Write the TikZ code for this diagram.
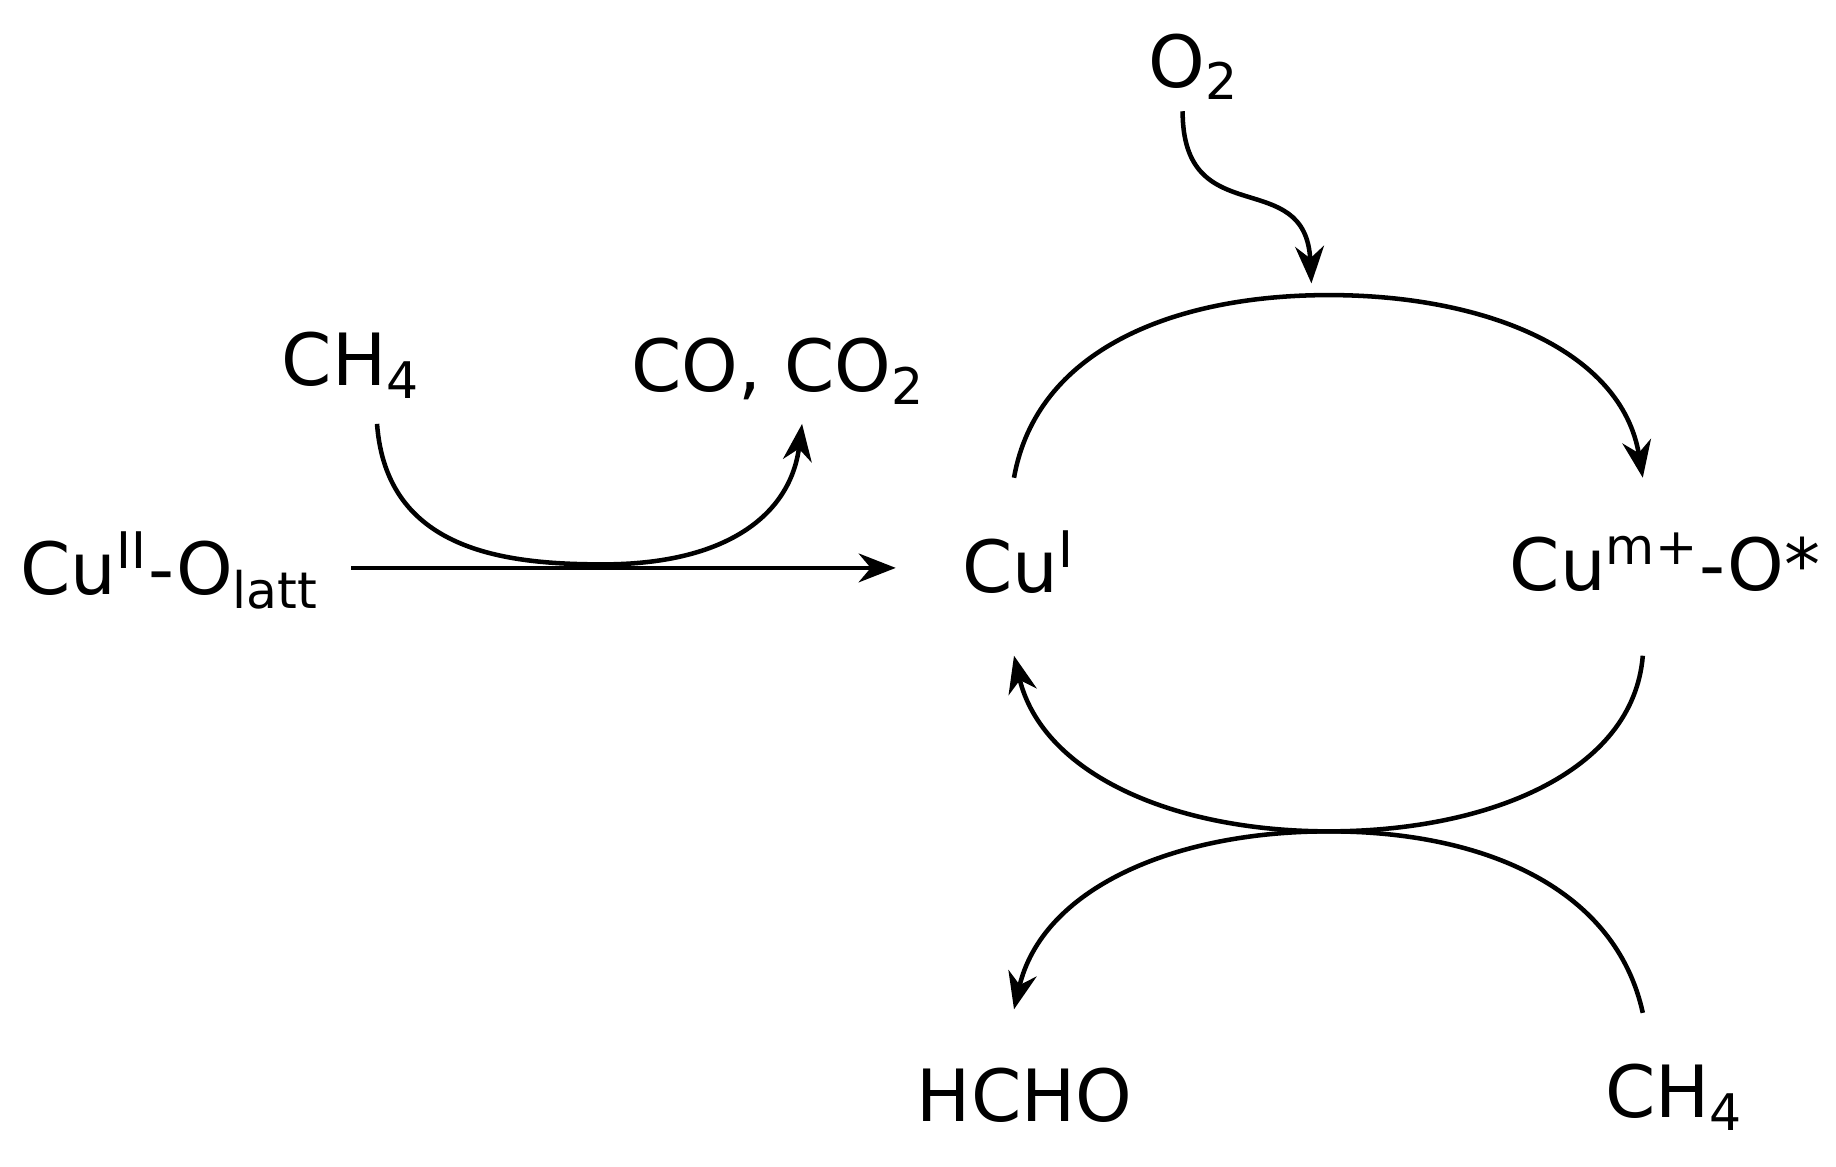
\documentclass[tikz,border=0pt]{standalone}
\usepackage{fontspec}
\setmainfont{DejaVu Sans}
\usetikzlibrary{arrows.meta}
\begin{document}
\begin{tikzpicture}[x=0.01cm,y=-0.01cm,
  lbl/.style={font=\fontsize{17.5}{20}\selectfont, inner sep=0pt},
  arr/.style={line width=1.1pt,-{Stealth[length=9pt,width=7pt]}}]
\useasboundingbox (0,0) rectangle (1568,996);
\node[lbl] (cuII) at (145,487) {Cu\textsuperscript{II}-O\textsubscript{latt}};
\node[lbl] (ch4a) at (300,312) {CH\textsubscript{4}};
\node[lbl] (co) at (665,317) {CO, CO\textsubscript{2}};
\node[lbl] (cuI) at (870,480) {Cu\textsuperscript{I}};
\node[lbl] (cum) at (1422,480) {Cu\textsuperscript{m+}-O*};
\node[lbl] (o2) at (1020,57) {O\textsubscript{2}};
\node[lbl] (hcho) at (875,935) {HCHO};
\node[lbl] (ch4b) at (1430,937) {CH\textsubscript{4}};
\coordinate (a1) at (300,485); \coordinate (a2) at (765,485);
\draw[arr] (a1) -- (a2);
\coordinate (b1) at (322,362); \coordinate (bm) at (515,482); \coordinate (b2) at (685,362);
\draw[arr] (b1) .. controls (330,470) and (430,482) .. (bm) .. controls (620,482) and (675,440) .. (b2);
\coordinate (u1) at (866,408); \coordinate (ut) at (1135,252); \coordinate (u2) at (1403,408);
\draw[arr] (u1) .. controls (885,300) and (1000,252) .. (ut) .. controls (1270,252) and (1385,300) .. (u2);
\coordinate (w1) at (1010,95); \coordinate (w2) at (1120,242);
\draw[arr] (w1) .. controls (1010,200) and (1115,140) .. (w2);
\coordinate (l1) at (1403,560); \coordinate (lb) at (1135,710); \coordinate (l2) at (866,560);
\draw[arr] (l1) .. controls (1395,660) and (1270,710) .. (lb) .. controls (1000,710) and (890,660) .. (l2);
\coordinate (m1) at (1403,865); \coordinate (m2) at (866,862);
\draw[arr] (m1) .. controls (1380,760) and (1270,710) .. (lb) .. controls (1000,710) and (890,760) .. (m2);
\end{tikzpicture}
\end{document}
